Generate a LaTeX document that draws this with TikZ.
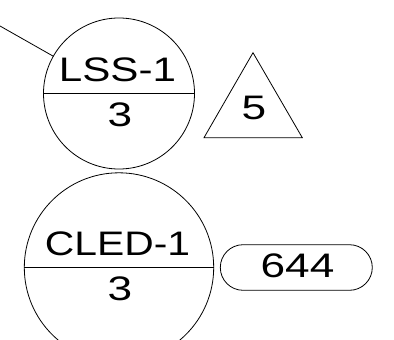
\documentclass[tikz,border=0pt]{standalone}
\usepackage{fontspec}
\setmainfont{Liberation Sans}
\usetikzlibrary{shapes.misc}
\newcommand{\wide}[2][1.24]{\scalebox{#1}[1]{#2}}
\tikzset{
  ln/.style={draw=black,line width=0.8pt},
  disc/.style={ln,circle,inner sep=0pt,outer sep=0pt},
  pill/.style={ln,rounded rectangle,inner sep=0pt,outer sep=0pt,minimum width=152pt,minimum height=45.6pt},
  lbl/.style={anchor=base,inner sep=0pt,font=\fontsize{34pt}{34pt}\selectfont,text=black}
}
\begin{document}
\begin{tikzpicture}[x=1pt,y=-1pt]
\useasboundingbox (0,0) rectangle (394,340);
\clip (0,0) rectangle (394,340);
\node[disc,minimum size=151pt] (lss) at (119,93.5) {};
\node[disc,minimum size=189.4pt] (cled) at (119,267.5) {};
\node[pill] (val) at (296.3,267.5) {};
\coordinate (free) at (0,26);
\coordinate (ta) at (253,52.7);
\coordinate (tl) at (204,137.7);
\coordinate (tr) at (302.3,137.7);
\draw[ln,line join=miter] (ta) -- (tl) -- (tr) -- cycle;
\draw[ln] (free) -- (lss);
\draw[ln] (lss.west) -- (lss.east);
\draw[ln] (cled.west) -- (cled.east);
\node[lbl] (t1) at (117.5,81) {\wide{LSS-1}};
\node[lbl] (t2) at (120,126.5) {\wide[1.3]{3}};
\node[lbl] (t3) at (254,119.5) {\wide[1.3]{5}};
\node[lbl] (t4) at (117.5,255) {\wide[1.2]{CLED-1}};
\node[lbl] (t5) at (120,300) {\wide[1.3]{3}};
\node[lbl] (t6) at (297.5,277.3) {\wide[1.3]{644}};
\end{tikzpicture}
\end{document}
